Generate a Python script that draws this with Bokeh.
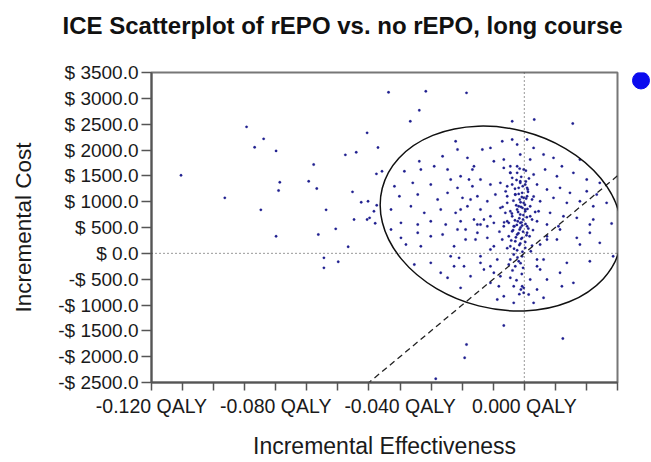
from bokeh.plotting import figure
from bokeh.layouts import row
from bokeh.models import Range1d, FixedTicker, Span, Title
from bokeh.embed import file_html
from bokeh.resources import INLINE

# ---------------- data ----------------
title_text = "ICE Scatterplot of rEPO vs. no rEPO, long course"
x_label = "Incremental Effectiveness"
y_label = "Incremental Cost"

x_major_ticks = [-0.12, -0.08, -0.04, 0.0]
x_tick_labels = ["-0.120 QALY", "-0.080 QALY", "-0.040 QALY", "0.000 QALY"]
x_minor_ticks = [-0.11, -0.10, -0.09, -0.07, -0.06, -0.05, -0.03, -0.02, -0.01, 0.01, 0.02, 0.03]

y_ticks = [-2500, -2000, -1500, -1000, -500, 0, 500, 1000, 1500, 2000, 2500, 3000, 3500]
y_tick_labels = ["-$ 2500.0", "-$ 2000.0", "-$ 1500.0", "-$ 1000.0", "-$ 500.0", "$ 0.0",
                 "$ 500.0", "$ 1000.0", "$ 1500.0", "$ 2000.0", "$ 2500.0", "$ 3000.0", "$ 3500.0"]

x_limits = [-0.12, 0.03]
y_limits = [-2500, 3500]

# willingness-to-pay threshold ($/QALY) for the dashed line
wtp = 50000

# confidence ellipse
ell_cx = -0.0075
ell_cy = 673
ell_w = 0.0789
ell_h = 3489
ell_angle = -0.25

# legend key marker (one symbol, in its own strip's unit space)
key_x = [0]
key_y = [0]

# incremental effectiveness (QALY)
ice_effect = [
    -0.0437, -0.0894, -0.0839, -0.0868, -0.0799, -0.0506, -0.0471, -0.0541, -0.0576, -0.1105,
    -0.0678, -0.0694, -0.0668, -0.0787, -0.0791, -0.0964, -0.0553, -0.0525, -0.0503, -0.0484,
    -0.0475, -0.0476, -0.0458, -0.0848, -0.0638, -0.0548, -0.0506, -0.0498, -0.0480, -0.0607,
    -0.0799, -0.0663, -0.0567, -0.0645, -0.0645, -0.0599,
    -0.0317, -0.0186, -0.0338, -0.0367, -0.0039, 0.0032, 0.0156,
    -0.0066, -0.0186, -0.0192, 0.0124, -0.0285, 0.0211, 0.0281,
    -0.0221, -0.0109, -0.0135, -0.0071, -0.0039, -0.0023, 0.0009, 0.0030, -0.0215, -0.0263,
    -0.0338, -0.0290, -0.0183, -0.0162, -0.0098, -0.0066, -0.0013, 0.0019, 0.0062, 0.0094,
    0.0121, 0.0179, -0.0386, -0.0333, -0.0247, -0.0205, -0.0167, -0.0141, -0.0066, -0.0045,
    -0.0023, -0.0002, 0.0030, 0.0067, 0.0105, 0.0158, 0.0201, 0.0243, -0.0418, -0.0359,
    -0.0301, -0.0237, -0.0215, -0.0178, -0.0167, -0.0109, -0.0077, -0.0039, -0.0013, 0.0009,
    0.0041, 0.0073, 0.0115, 0.0147, 0.0201, 0.0233, -0.0402, -0.0343, -0.0279, -0.0247,
    -0.0199, -0.0151, -0.0119, -0.0093, -0.0055, -0.0029, -0.0002, 0.0025, 0.0051, 0.0094,
    0.0137, 0.0179, 0.0222, 0.0265, -0.0429, -0.0365, -0.0322, -0.0269, -0.0221, -0.0183,
    -0.0141, -0.0109, -0.0077, -0.0045, -0.0018, 0.0003, 0.0019, 0.0046, 0.0083, 0.0126,
    0.0169, 0.0222, -0.0397, -0.0343, -0.0301, -0.0253, -0.0205, -0.0151, -0.0130, -0.0098,
    -0.0055, -0.0034, -0.0013, 0.0009, 0.0041, 0.0073, 0.0110,
    -0.0013, 0.0003, 0.0011, -0.0018, -0.0007, -0.0029, 0.0009, -0.0015, -0.0002, -0.0011,
    -0.0023, 0.0003, -0.0013, -0.0039, -0.0004, -0.0021, -0.0050, -0.0032, -0.0007, -0.0015,
    -0.0039, 0.0009, -0.0023, -0.0050, -0.0007, -0.0029, -0.0013, -0.0045, 0.0003, -0.0023,
    -0.0034, -0.0007, -0.0045, -0.0018, -0.0050, -0.0029, -0.0004, -0.0055, -0.0061, -0.0066,
    -0.0071, 0.0019, 0.0025, 0.0017, 0.0021, -0.0055, -0.0039, -0.0023, 0.0005, -0.0045,
    -0.0007, -0.0002, -0.0011, -0.0098, -0.0087, -0.0109, 0.0041, 0.0051, -0.0077, 0.0019,
    -0.0141, 0.0073, -0.0157, -0.0119, -0.0162, -0.0205, -0.0173, -0.0189, -0.0226, -0.0237,
    -0.0429, -0.0397, -0.0343, -0.0301, -0.0263, -0.0215, -0.0189, -0.0151, -0.0119, -0.0141,
    -0.0210, -0.0141, -0.0109, -0.0354, -0.0301, -0.0269, -0.0247, -0.0205, -0.0173, -0.0130,
    -0.0098, -0.0109, -0.0082, -0.0066, -0.0045, -0.0034, -0.0016, -0.0002, 0.0014, 0.0041,
    0.0062, 0.0030, -0.0034, -0.0087, 0.0073, 0.0115, 0.0121, 0.0158, 0.0137, 0.0179,
    0.0211, 0.0286, 0.0243, 0.0062, 0.0041, 0.0105, 0.0169, 0.0211, 0.0115, 0.0073,
    0.0051, -0.0226, -0.0194, -0.0333, -0.0381,
    -0.0010, -0.0025, 0.0005, -0.0005, -0.0030, 0.0012, -0.0018, -0.0008, 0.0006, -0.0035,
    -0.0012, 0.0002, -0.0026, -0.0006, 0.0010, -0.0020, -0.0040, -0.0003, 0.0008, -0.0016,
    -0.0030, -0.0009, 0.0004, -0.0024, -0.0012, 0.0013, -0.0036, -0.0004, -0.0019, 0.0007,
    -0.0027, -0.0010, -0.0042, 0.0003, -0.0016, -0.0033, -0.0006, -0.0022, -0.0012, -0.0038,
    -0.0008, -0.0025, -0.0015, -0.0045, 0.0015, -0.0060, -0.0070, 0.0030, 0.0035, -0.0065,
    0.0028, -0.0080, -0.0055, 0.0025,
]

# incremental cost ($)
ice_cost = [
    3117, 2448, 2216, 2053, 1983, 2332, 2047, 1956, 1906, 1511,
    1718, 1395, 1254, 1376, 1215, 1074, 1190, 989, 1008, 815,
    931, 1538, 1589, 842, 842, 654, 654, 687, 582, 474,
    331, 364, 126, -87, -281, -164,
    3137, 3106, 2769, 2556, 2556, 2589, 2512,
    -1397, -1765, -2022, -1649, -2428, 557, 577,
    2169, 2041, 2009, 2169, 2202, 2105, 2202, 2041, 2009, 1879,
    1782, 1685, 1848, 1685, 1782, 1815, 1912, 1815, 1912, 1848,
    1685, 1815, 1589, 1622, 1622, 1492, 1622, 1428, 1654, 1558,
    1685, 1622, 1525, 1622, 1492, 1558, 1428, 1364, 1298, 1364,
    1331, 1428, 1267, 1428, 1298, 1331, 1364, 1331, 1364, 1267,
    1331, 1235, 1267, 1171, 1202, 1138, 1105, 1138, 1041, 1171,
    1074, 1105, 1008, 1138, 1105, 1138, 1074, 1041, 1008, 1074,
    977, 1008, 911, 977, 848, 911, 784, 848, 784, 911,
    848, 718, 880, 815, 911, 848, 718, 815, 784, 718,
    687, 654, 590, 557, 621, 557, 621, 557, 654, 590,
    621, 524, 590, 524, 621, 557, 524,
    1395, 1331, 1235, 1267, 1171, 1138, 1105, 1041, 977, 900,
    848, 815, 751, 718, 654, 621, 590, 524, 538, 461,
    428, 397, 364, 331, 300, 234, 190, 137, 106, 60,
    -23, -56, -120, -153, -217, -250, -281, 977, 784, 524,
    267, 911, 654, 331, 41, 1298, 1461, 1558, 1600, 1685,
    -637, -764, -700, 137, -120, -250, -120, -313, -443, -507,
    -184, 267, 267, 524, 654, 848, 1041, 461, 137, -56,
    461, 300, 397, 331, 364, 461, 267, 397, 300, 557,
    -87, -56, 74, -217, -184, -377, -474, -668, -443, -313,
    -377, -571, -637, -830, -474, -637, -790, -668, -797, -700,
    -861, -958, -958, -894, -507, -377, -637, -571, -184, 170,
    -153, -56, 203, -120, -250, 267, 300, 397, 461, 331,
    170, -250, -250, 137, 170,
    1480, 1420, 1390, 1300, 1250, 1190, 1150, 1090, 1060, 1020,
    990, 940, 930, 880, 860, 800, 770, 740, 700, 680,
    640, 600, 570, 550, 500, 480, 450, 420, 390, 350,
    310, 280, 250, 220, 160, 90, 30, -80, -190, -330,
    -400, -520, 1640, 1560, 1450, 1200, 900, 1100, 800, 600,
    450, 420, 100, 150,
]

# ---------------- main figure ----------------
FONT = "Liberation Sans"
TEXT = "#1a1a1a"

p = figure(width=630, height=461,
           x_range=Range1d(*x_limits), y_range=Range1d(*y_limits),
           output_backend="svg", toolbar_location=None,
           min_border_left=151, min_border_right=13,
           min_border_top=72, min_border_bottom=77)
p.background_fill_color = "white"
p.border_fill_color = "white"
p.xgrid.visible = False
p.ygrid.visible = False
p.outline_line_color = "#777777"
p.outline_line_width = 2

xa = p.xaxis[0]
xa.ticker = FixedTicker(ticks=x_major_ticks, minor_ticks=x_minor_ticks)
xa.major_label_overrides = dict(zip(x_major_ticks, x_tick_labels))
xa.major_tick_out = 8
xa.major_tick_in = 0
xa.minor_tick_out = 8
xa.minor_tick_in = 0
xa.major_label_standoff = 4
xa.major_label_text_font_size = "19.5px"
xa.axis_label = x_label
xa.axis_label_standoff = 13
xa.axis_label_text_font_size = "23px"

ya = p.yaxis[0]
ya.ticker = FixedTicker(ticks=y_ticks, minor_ticks=[])
ya.major_label_overrides = dict(zip(y_ticks, y_tick_labels))
ya.major_tick_out = 10
ya.major_tick_in = 0
ya.minor_tick_out = 0
ya.minor_tick_in = 0
ya.major_label_standoff = 3
ya.major_label_text_font_size = "19px"
ya.axis_label = y_label
ya.axis_label_standoff = 19
ya.axis_label_text_font_size = "22.5px"

for ax in (xa, ya):
    ax.axis_line_color = "#555555"
    ax.axis_line_width = 2
    ax.major_tick_line_color = "#555555"
    ax.major_tick_line_width = 1.5
    ax.minor_tick_line_color = "#555555"
    ax.minor_tick_line_width = 1.5
    ax.major_label_text_font = FONT
    ax.major_label_text_color = TEXT
    ax.axis_label_text_font = FONT
    ax.axis_label_text_font_style = "normal"
    ax.axis_label_text_color = TEXT

# zero reference lines (dotted)
p.add_layout(Span(location=0, dimension="height", line_color="#333333",
                  line_width=1, line_dash="1 3"))
p.add_layout(Span(location=0, dimension="width", line_color="#333333",
                  line_width=1, line_dash="1 3"))

# scatter of simulated ICE pairs
p.scatter(x=ice_effect, y=ice_cost, marker="circle", size=2.4,
          fill_color="#1f1f8f", line_color="#1f1f8f", line_width=0.3)

# WTP dashed line through the origin
p.line(x=x_limits, y=[wtp * v for v in x_limits], line_color="#222222",
       line_width=1.3, line_dash="6 4")

# confidence ellipse
p.ellipse(x=[ell_cx], y=[ell_cy], width=[ell_w], height=[ell_h], angle=[ell_angle],
          fill_color=None, line_color="#111111", line_width=1.5)

# title: spacer first (nearest the frame), then the title itself
p.title.text = ""
p.add_layout(Title(text=" ", text_font_size="24.5px", standoff=0), "above")
p.add_layout(Title(text=title_text, align="left", offset=-89,
                   text_font=FONT, text_font_size="24px", text_font_style="bold",
                   text_color="#111111", standoff=10, vertical_align="bottom"), "above")

# ---------------- legend strip (blue series key at the right) ----------------
# the strip's frame is aligned with the main frame (312 px tall) by the row layout;
# the key sits 8 px below the frame top
STRIP_W, STRIP_H, FRAME_H, KEY_DROP = 21, 461, 312, 8
p2 = figure(width=STRIP_W, height=STRIP_H, output_backend="svg", toolbar_location=None,
            x_range=Range1d(-STRIP_W / 2, STRIP_W / 2),
            y_range=Range1d(-(FRAME_H - KEY_DROP), KEY_DROP),
            min_border=0, min_border_left=0, min_border_right=0,
            min_border_top=0, min_border_bottom=0,
            x_axis_type=None, y_axis_type=None)
p2.outline_line_color = None
p2.grid.visible = False
p2.background_fill_color = "white"
p2.border_fill_color = "white"
p2.scatter(x=key_x, y=key_y, marker="circle", size=17,
           fill_color="#0b0bee", line_color="#0b0bee")

layout = row(p, p2, spacing=0)
open("out.html", "w").write(file_html(layout, INLINE))
